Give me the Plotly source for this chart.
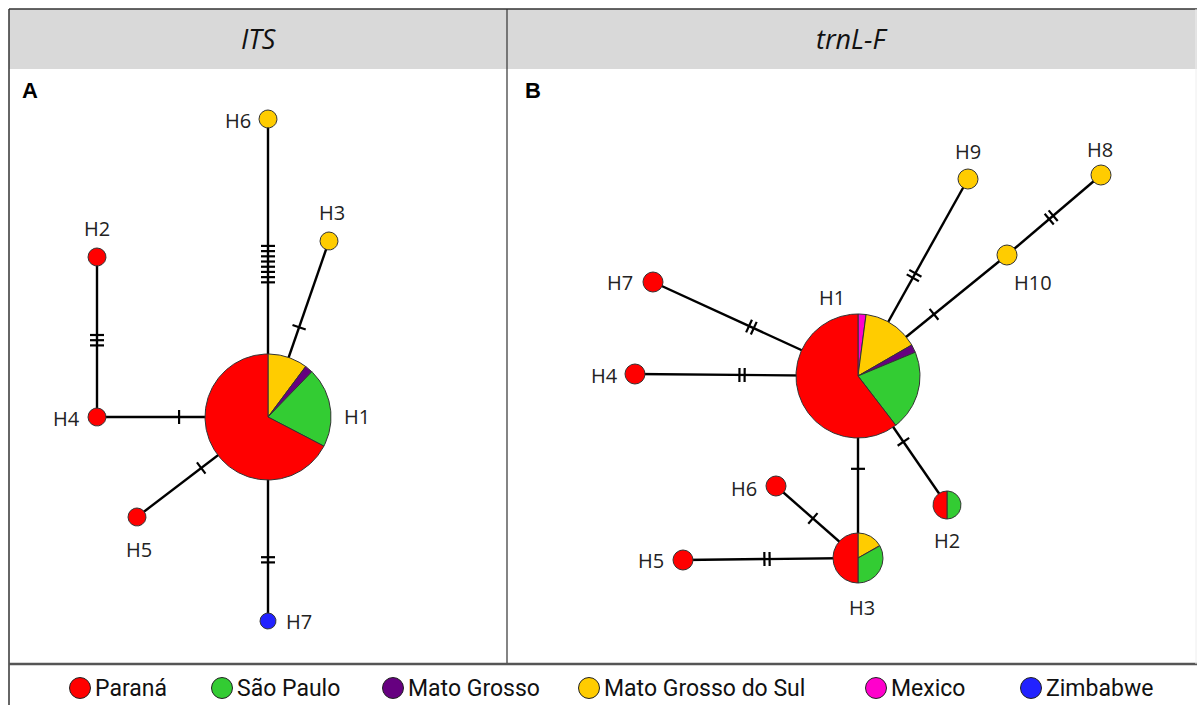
import numpy as np
import plotly.graph_objects as go

# ---------------- data ----------------
regions = ["Mexico", "Mato Grosso do Sul", "Mato Grosso", "São Paulo", "Paraná", "Zimbabwe"]
region_colors = ["#ff00cc", "#ffcc00", "#660080", "#33cc33", "#ff0000", "#2222ff"]
legend_order = ["Paraná", "São Paulo", "Mato Grosso", "Mato Grosso do Sul", "Mexico", "Zimbabwe"]

# ITS network (panel A)
its_ids = ["H1", "H2", "H3", "H4", "H5", "H6", "H7"]
its_x = [268, 97, 329, 97, 137, 268, 268]
its_y = [417, 257, 241, 417, 517, 119, 621]
its_counts = {  # Mexico, MS do Sul, Mato Grosso, São Paulo, Paraná, Zimbabwe
    "H1": [0, 5, 1, 10, 33, 0],
    "H2": [0, 0, 0, 0, 1, 0],
    "H3": [0, 1, 0, 0, 0, 0],
    "H4": [0, 0, 0, 0, 1, 0],
    "H5": [0, 0, 0, 0, 1, 0],
    "H6": [0, 1, 0, 0, 0, 0],
    "H7": [0, 0, 0, 0, 0, 1],
}
its_radius = [63, 9, 9, 9, 9, 9, 8]
its_label_dx = [89, 0, 3, -31, 2, -30, 31]
its_label_dy = [-1, -29, -29, 1, 32, 1, 0]
its_edges = [("H6", "H1", 8, 0.487), ("H3", "H1", 1, 0.49), ("H2", "H4", 3, 0.52),
             ("H4", "H1", 1, 0.48), ("H5", "H1", 1, 0.49), ("H1", "H7", 2, 0.70)]

# trnL-F network (panel B)
trn_ids = ["H1", "H2", "H3", "H4", "H5", "H6", "H7", "H8", "H9", "H10"]
trn_x = [858, 947, 858, 635, 683, 776, 653, 1101, 968, 1007]
trn_y = [376, 505, 558, 374, 560, 486, 282, 175, 179, 255]
trn_counts = {
    "H1": [1, 7, 1, 10, 29, 0],
    "H2": [0, 0, 0, 1, 1, 0],
    "H3": [0, 1, 0, 2, 3, 0],
    "H4": [0, 0, 0, 0, 1, 0],
    "H5": [0, 0, 0, 0, 1, 0],
    "H6": [0, 0, 0, 0, 1, 0],
    "H7": [0, 0, 0, 0, 1, 0],
    "H8": [0, 1, 0, 0, 0, 0],
    "H9": [0, 1, 0, 0, 0, 0],
    "H10": [0, 1, 0, 0, 0, 0],
}
trn_radius = [62, 14, 25, 10, 10, 10, 10, 10, 10, 10]
trn_label_dx = [-26, 0, 4, -31, -32, -32, -33, -1, 0, 26]
trn_label_dy = [-79, 35, 49, 1, 0, 2, 0, -26, -28, 27]
trn_edges = [("H7", "H1", 2, 0.48), ("H4", "H1", 2, 0.48), ("H9", "H1", 2, 0.49),
             ("H10", "H1", 1, 0.49), ("H10", "H8", 2, 0.47), ("H1", "H2", 1, 0.51),
             ("H1", "H3", 1, 0.51), ("H6", "H3", 1, 0.45), ("H5", "H3", 2, 0.48)]

legend_x = [80, 222, 393, 589, 876, 1031]

fig = go.Figure()

def add_network(ids, xs, ys, counts, radius, ldx, ldy, edges):
    pos = {k: (x, y) for k, x, y in zip(ids, xs, ys)}
    for a, b, n, t in edges:
        (x0, y0), (x1, y1) = pos[a], pos[b]
        fig.add_trace(go.Scatter(x=[x0, x1], y=[y0, y1], mode="lines",
                                 line=dict(color="black", width=2.4),
                                 hoverinfo="skip", showlegend=False))
        d = np.array([x1 - x0, y1 - y0], float)
        L = np.hypot(*d)
        u = d / L
        p = np.array([-u[1], u[0]])
        cx, cy = x0 + t * d[0], y0 + t * d[1]
        tx, ty = [], []
        for i in range(n):
            off = (i - (n - 1) / 2) * 5.2
            mx, my = cx + u[0] * off, cy + u[1] * off
            tx += [mx - p[0] * 7, mx + p[0] * 7, None]
            ty += [my - p[1] * 7, my + p[1] * 7, None]
        fig.add_trace(go.Scatter(x=tx, y=ty, mode="lines",
                                 line=dict(color="black", width=2.2),
                                 hoverinfo="skip", showlegend=False))
    for k, x, y, r, dx, dy in zip(ids, xs, ys, radius, ldx, ldy):
        c = np.array(counts[k], float)
        tot = c.sum()
        start = 0.0
        for val, col in zip(c, region_colors):
            if val <= 0:
                continue
            span = 360 * val / tot
            th = np.radians(np.linspace(start, start + span, max(int(span), 2) + 1))
            px = x + r * np.sin(th)
            py = y - r * np.cos(th)
            if span < 359.9:
                px = np.concatenate([[x], px, [x]])
                py = np.concatenate([[y], py, [y]])
            fig.add_trace(go.Scatter(x=px, y=py, mode="lines", fill="toself",
                                     fillcolor=col, line=dict(color="#333333", width=1),
                                     hoverinfo="skip", showlegend=False))
            start += span
        fig.add_annotation(x=x + dx, y=y + dy, text=k, showarrow=False,
                           font=dict(family="Open Sans, Noto Sans, sans-serif", size=20, color="#222222"),
                           xanchor="center", yanchor="middle")

add_network(its_ids, its_x, its_y, its_counts, its_radius, its_label_dx, its_label_dy, its_edges)
add_network(trn_ids, trn_x, trn_y, trn_counts, trn_radius, trn_label_dx, trn_label_dy, trn_edges)

# legend
for name, lx in zip(legend_order, legend_x):
    col = region_colors[regions.index(name)]
    fig.add_trace(go.Scatter(x=[lx], y=[688], mode="markers",
                             marker=dict(size=21, color=col, line=dict(color="#222222", width=1)),
                             hoverinfo="skip", showlegend=False))
    fig.add_annotation(x=lx + 13, y=688, text=name, showarrow=False, xanchor="left", yanchor="middle",
                       font=dict(family="Roboto, sans-serif", size=23, color="#111111"))

# frame / headers
shapes = [
    dict(type="rect", x0=9, x1=1197, y0=9, y1=69, fillcolor="#d9d9d9", line=dict(width=0), layer="below"),
    dict(type="line", x0=9, x1=1197, y0=9, y1=9, line=dict(color="#333333", width=1.5)),
    dict(type="line", x0=9, x1=9, y0=9, y1=705, line=dict(color="#333333", width=1.5)),
    dict(type="line", x0=507, x1=507, y0=9, y1=664, line=dict(color="#333333", width=1.2)),
    dict(type="line", x0=9, x1=1197, y0=664, y1=664, line=dict(color="#555555", width=2.5)),
    dict(type="line", x0=1196, x1=1196, y0=9, y1=664, line=dict(color="#eeeeee", width=1)),
]
fig.update_layout(shapes=shapes)
for txt, x in [("ITS", 258), ("trnL-F", 852)]:
    fig.add_annotation(x=x, y=38, text="<i>" + txt + "</i>", showarrow=False,
                       font=dict(family="Open Sans, sans-serif", size=27, color="#111111"),
                       xanchor="center", yanchor="middle")
for txt, x in [("A", 30), ("B", 533)]:
    fig.add_annotation(x=x, y=90, text="<b>" + txt + "</b>", showarrow=False,
                       font=dict(family="Liberation Sans, Arial, sans-serif", size=22, color="#000000"),
                       xanchor="center", yanchor="middle")

fig.update_layout(
    width=1197, height=705, margin=dict(l=0, r=0, t=0, b=0),
    paper_bgcolor="white", plot_bgcolor="white",
    xaxis=dict(range=[0, 1197], visible=False, fixedrange=True),
    yaxis=dict(range=[705, 0], visible=False, fixedrange=True),
    showlegend=False,
)
fig.write_html("out.html", config={"displayModeBar": False},
               post_script="document.body.style.margin='0';document.body.style.padding='0';document.body.style.overflow='hidden';")
